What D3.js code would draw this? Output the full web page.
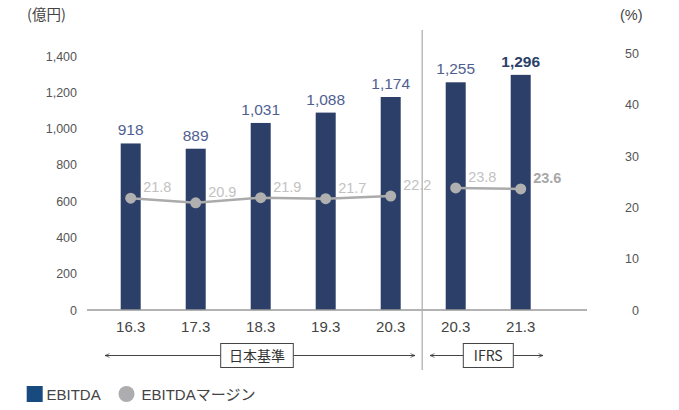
<!DOCTYPE html>
<html>
<head>
<meta charset="utf-8">
<script src="https://cdn.jsdelivr.net/npm/d3@7/dist/d3.min.js"></script>
<style>
  html, body { margin: 0; padding: 0; background: #fff; }
  svg { display: block; font-family: "Liberation Sans", Arial, "Noto Sans CJK JP", sans-serif; }
</style>
</head>
<body>
<svg id="chart" width="679" height="410"></svg>
<script>
const categories = ["16.3", "17.3", "18.3", "19.3", "20.3", "20.3", "21.3"];
const ebitda = [918, 889, 1031, 1088, 1174, 1255, 1296];
const margin = [21.8, 20.9, 21.9, 21.7, 22.2, 23.8, 23.6];
const standards = ["日本基準", "日本基準", "日本基準", "日本基準", "日本基準", "IFRS", "IFRS"];
const leftTicks = [0, 200, 400, 600, 800, 1000, 1200, 1400];
const rightTicks = [0, 10, 20, 30, 40, 50];
const legendLabels = ["EBITDA", "EBITDAマージン"];

const svg = d3.select("#chart");
const idx = d3.range(categories.length);

const x = d3.scalePoint().domain(idx).range([130.7, 520.7]);
const yL = d3.scaleLinear().domain([0, 1400]).range([310, 56]);
const yR = d3.scaleLinear().domain([0, 50]).range([310, 53.5]);
const barW = 20;

const barColor = "#2c3f68";
const valColor = "#4f6090";
const lineColor = "#ababab";
const mLabelColor = "#c2c2c2";
const tickColor = "#555";

// unit labels
svg.append("text").attr("x", 27).attr("y", 20).attr("font-size", 14.5).attr("fill", "#444")
  .attr("font-family", "'Noto Sans CJK JP', sans-serif").text("(億円)");
svg.append("text").attr("x", 620).attr("y", 20).attr("font-size", 14.5).attr("fill", "#444").text("(%)");

// left axis
const gL = svg.append("g").attr("transform", "translate(77,0)")
  .call(d3.axisLeft(yL).tickValues(leftTicks).tickSize(0).tickPadding(0).tickFormat(d3.format(",")));
gL.select(".domain").remove();
gL.selectAll("text").attr("font-size", 12.5).attr("fill", tickColor).attr("font-family", "'Liberation Sans', Arial, sans-serif");

// right axis
const gR = svg.append("g").attr("transform", "translate(639,0)")
  .call(d3.axisLeft(yR).tickValues(rightTicks).tickSize(0).tickPadding(0));
gR.select(".domain").remove();
gR.selectAll("text").attr("font-size", 12.5).attr("fill", tickColor).attr("font-family", "'Liberation Sans', Arial, sans-serif");

// bars
svg.append("g").selectAll("rect").data(idx).join("rect")
  .attr("x", i => x(i) - barW / 2)
  .attr("y", i => yL(ebitda[i]))
  .attr("width", barW)
  .attr("height", i => yL(0) - yL(ebitda[i]))
  .attr("fill", barColor);

// baseline
svg.append("line").attr("x1", 87).attr("x2", 587).attr("y1", yL(0)).attr("y2", yL(0))
  .attr("stroke", "#9a9a9a").attr("stroke-width", 1.5);

// divider
const divX = (x(4) + x(5)) / 2 - 1;
svg.append("line").attr("x1", divX).attr("x2", divX).attr("y1", 30).attr("y2", 370)
  .attr("stroke", "#b0b0b0").attr("stroke-width", 1.3);

// bar value labels
svg.append("g").selectAll("text").data(idx).join("text")
  .attr("x", i => x(i))
  .attr("y", i => yL(ebitda[i]) - 8)
  .attr("text-anchor", "middle")
  .attr("font-size", 15.5)
  .attr("font-weight", i => i === idx.length - 1 ? "bold" : "normal")
  .attr("fill", i => i === idx.length - 1 ? "#2c3f68" : valColor)
  .text(i => d3.format(",")(ebitda[i]));

// margin lines (separate per standard)
const line = d3.line().x(i => x(i)).y(i => yR(margin[i]));
const groups = d3.groups(idx, i => standards[i]);
svg.append("g").selectAll("path").data(groups).join("path")
  .attr("d", g => line(g[1]))
  .attr("fill", "none").attr("stroke", lineColor).attr("stroke-width", 2.5);

svg.append("g").selectAll("circle").data(idx).join("circle")
  .attr("cx", i => x(i)).attr("cy", i => yR(margin[i])).attr("r", 5.5)
  .attr("fill", "#b0b0b0");

svg.append("g").selectAll("text").data(idx).join("text")
  .attr("x", i => x(i) + 12.5)
  .attr("y", i => yR(margin[i]) - 6)
  .attr("font-size", 14.5)
  .attr("font-weight", i => i === idx.length - 1 ? "bold" : "normal")
  .attr("fill", i => i === idx.length - 1 ? "#a8a8a8" : mLabelColor)
  .text(i => d3.format(".1f")(margin[i]));

// category labels
svg.append("g").selectAll("text").data(idx).join("text")
  .attr("x", i => x(i)).attr("y", 332)
  .attr("text-anchor", "middle").attr("font-size", 15).attr("fill", "#444")
  .text(i => categories[i]);

// standards brackets
const defs = svg.append("defs");
defs.append("marker").attr("id", "arr").attr("viewBox", "0 0 8 8").attr("refX", 7).attr("refY", 4)
  .attr("markerWidth", 6).attr("markerHeight", 6).attr("orient", "auto-start-reverse")
  .append("path").attr("d", "M1,1.5 L7,4 L1,6.5").attr("fill", "none").attr("stroke", "#444").attr("stroke-width", 1);

const brackets = [
  { label: "日本基準", x1: 105, x2: 415, bx1: 220.7, bx2: 293.3 },
  { label: "IFRS", x1: 430, x2: 543, bx1: 463.3, bx2: 513.3 }
];
const by = 355.5;
brackets.forEach(b => {
  const g = svg.append("g");
  g.append("line").attr("x1", b.x1).attr("x2", b.x2).attr("y1", by).attr("y2", by)
    .attr("stroke", "#444").attr("stroke-width", 1)
    .attr("marker-start", "url(#arr)").attr("marker-end", "url(#arr)");
  g.append("rect").attr("x", b.bx1).attr("y", 343.5).attr("width", b.bx2 - b.bx1).attr("height", 24)
    .attr("fill", "#fff").attr("stroke", "#444").attr("stroke-width", 1);
  g.append("text").attr("x", (b.bx1 + b.bx2) / 2).attr("y", 360.5).attr("text-anchor", "middle")
    .attr("font-size", 14).attr("fill", "#333")
    .attr("font-family", "'Noto Sans CJK JP', 'Liberation Sans', sans-serif")
    .text(b.label);
});

// legend
const lg = svg.append("g");
lg.append("rect").attr("x", 26.7).attr("y", 386).attr("width", 16).attr("height", 16).attr("fill", "#174b80");
lg.append("text").attr("x", 46.5).attr("y", 399.5).attr("font-size", 15).attr("fill", "#444").text(legendLabels[0]);
lg.append("circle").attr("cx", 126.5).attr("cy", 394).attr("r", 8).attr("fill", "#adadb0");
lg.append("text").attr("x", 141.5).attr("y", 399.5).attr("font-size", 15).attr("fill", "#444")
  .attr("font-family", "'Liberation Sans', 'Noto Sans CJK JP', sans-serif").text(legendLabels[1]);
</script>
</body>
</html>
